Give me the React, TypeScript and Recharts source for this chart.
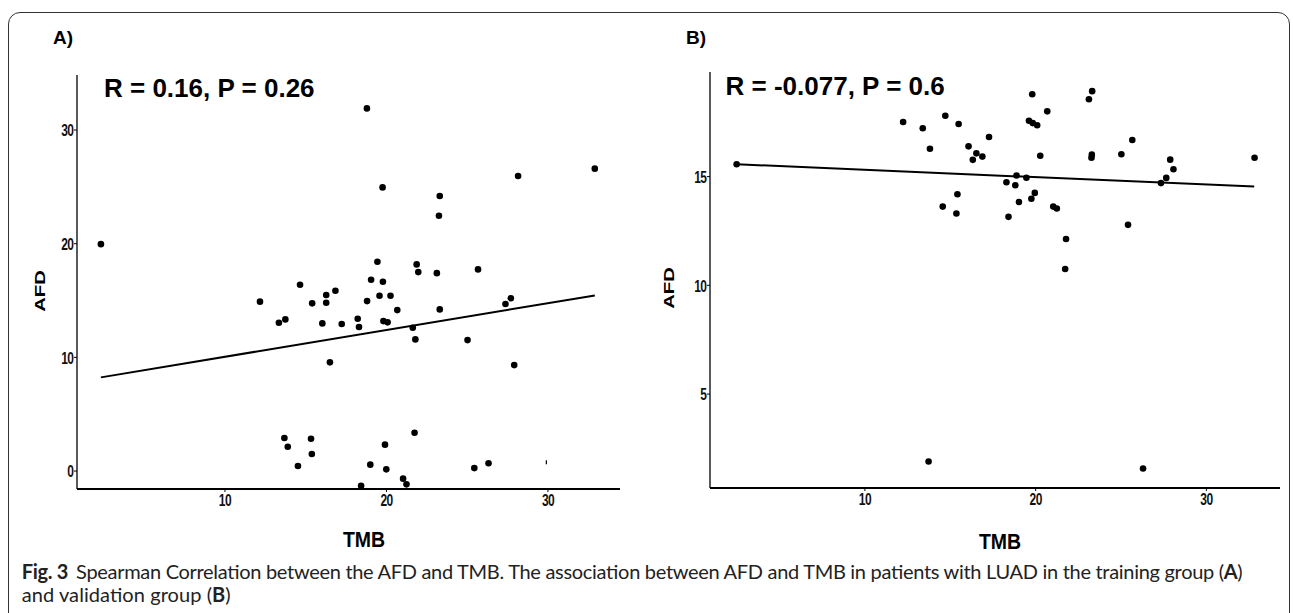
import React from "react";
import { ScatterChart, Scatter, XAxis, YAxis } from "recharts";

// ---------- Panel A (training group) ----------
const tmbA = [
  2.32, 18.79, 19.76, 23.3, 23.25, 28.15, 32.9, 19.44, 21.87, 21.97, 23.12, 25.67,
  19.05, 19.78, 14.65, 16.84, 16.27, 19.57, 20.25, 27.7, 12.17, 18.8, 15.4, 16.27,
  20.67, 23.3, 27.37, 13.34, 13.74, 16.03, 17.23, 18.22, 18.3, 19.81, 20.07, 21.63,
  21.79, 25.02, 16.5, 27.91, 13.68, 13.89, 15.33, 15.38, 14.52, 19.0, 19.91, 19.99,
  21.74, 21.03, 21.24, 18.43, 25.44, 26.32,
];
const afdA = [
  19.96, 31.9, 24.95, 24.19, 22.46, 25.95, 26.6, 18.41, 18.18, 17.5, 17.41, 17.74,
  16.83, 16.65, 16.39, 15.86, 15.48, 15.42, 15.42, 15.2, 14.9, 14.95, 14.75, 14.8,
  14.16, 14.22, 14.69, 13.04, 13.34, 12.99, 12.93, 13.4, 12.67, 13.19, 13.08, 12.6,
  11.58, 11.52, 9.56, 9.32, 2.9, 2.14, 2.84, 1.5, 0.44, 0.56, 2.32, 0.15,
  3.37, -0.67, -1.17, -1.29, 0.26, 0.68,
];
const tinyTmbA = [29.9];
const tinyAfdA = [0.77];
const fitTmbA = [2.32, 32.9];
const fitAfdA = [8.24, 15.45];
const xDomainA = [0.84, 34.46];
const yDomainA = [-1.58, 34.84];
const xTicksA = [10, 20, 30];
const yTicksA = [0, 10, 20, 30];
const statA = "R = 0.16, P = 0.26";

// ---------- Panel B (validation group) ----------
const tmbB = [
  2.49, 12.24, 13.39, 14.71, 15.49, 13.81, 16.07, 16.53, 16.32, 16.88, 17.27, 19.8,
  19.61, 19.83, 20.09, 20.68, 20.27, 23.12, 23.31, 23.29, 23.27, 25.02, 25.66, 27.88,
  28.07, 27.65, 27.34, 32.82, 18.88, 19.46, 18.29, 18.81, 19.95, 19.75, 19.02, 15.42,
  14.56, 15.36, 18.41, 21.03, 21.24, 25.41, 21.78, 21.73, 13.73, 26.29,
];
const afdB = [
  15.57, 17.51, 17.22, 17.8, 17.42, 16.28, 16.39, 16.07, 15.77, 15.92, 16.82, 18.79,
  17.57, 17.46, 17.36, 18.0, 15.96, 18.56, 18.93, 16.01, 15.87, 16.03, 16.68, 15.78,
  15.34, 14.94, 14.7, 15.87, 15.05, 14.95, 14.74, 14.6, 14.25, 13.98, 13.83, 14.19,
  13.62, 13.3, 13.15, 13.62, 13.53, 12.78, 12.13, 10.75, 1.9, 1.58,
];
const fitTmbB = [2.49, 32.8];
const fitAfdB = [15.57, 14.54];
const xDomainB = [0.93, 34.31];
const yDomainB = [0.68, 19.81];
const xTicksB = [10, 20, 30];
const yTicksB = [5, 10, 15];
const statB = "R = -0.077, P = 0.6";

const xLabel = "TMB";
const yLabel = "AFD";

const toPts = (xs: number[], ys: number[]) => xs.map((x, i) => ({ x, y: ys[i] }));

const BOLD = "'Liberation Sans', Arial, sans-serif";

const XTick = (props: any) => {
  const { x, y, payload } = props;
  return (
    <g transform={`translate(${x},${y + 12}) scale(1,1.45)`}>
      <text x={0} y={0} textAnchor="middle" fontSize={12} fontWeight="bold" fontFamily={BOLD} fill="#111" letterSpacing={-0.6}>
        {payload.value}
      </text>
    </g>
  );
};

const YTick = (props: any) => {
  const { x, y, payload } = props;
  return (
    <g transform={`translate(${x + 1.3},${y + 6.2}) scale(1,1.45)`}>
      <text x={0} y={0} textAnchor="end" fontSize={12} fontWeight="bold" fontFamily={BOLD} fill="#111" letterSpacing={-0.6}>
        {payload.value}
      </text>
    </g>
  );
};

const Dot = (props: any) => <circle cx={props.cx} cy={props.cy} r={3.3} fill="#000" />;
const TinyDot = (props: any) => <rect x={props.cx - 0.6} y={props.cy - 2} width={1.2} height={4} fill="#000" />;
const NoShape = () => <g />;

const Panel = (p: {
  width: number; height: number; margin: any;
  pts: any[]; tiny?: any[]; fit: any[];
  xDomain: number[]; yDomain: number[]; xTicks: number[]; yTicks: number[];
}) => (
  <ScatterChart width={p.width} height={p.height} margin={p.margin}>
    <XAxis
      type="number" dataKey="x" domain={p.xDomain} ticks={p.xTicks} allowDataOverflow
      height={30} tickSize={3} tickMargin={2} tick={XTick}
      axisLine={{ stroke: "#000", strokeWidth: 2 }} tickLine={{ stroke: "#000", strokeWidth: 1 }}
    />
    <YAxis
      type="number" dataKey="y" domain={p.yDomain} ticks={p.yTicks} allowDataOverflow
      width={30} tickSize={3} tickMargin={2} tick={YTick}
      axisLine={{ stroke: "#000", strokeWidth: 1.3 }} tickLine={{ stroke: "#000", strokeWidth: 1 }}
    />
    <Scatter data={p.fit} shape={NoShape} line={{ stroke: "#000", strokeWidth: 2 }} isAnimationActive={false} />
    <Scatter data={p.pts} shape={Dot} isAnimationActive={false} />
    {p.tiny ? <Scatter data={p.tiny} shape={TinyDot} isAnimationActive={false} /> : null}
  </ScatterChart>
);

export default function App() {
  const textStyle = { fontFamily: BOLD, fontWeight: "bold" as const, fill: "#000" };
  return (
    <div style={{ position: "relative", width: 1293, height: 613, overflow: "hidden", background: "#fff" }}>
      <style>{`body{margin:0;}`}</style>
      <div
        style={{
          position: "absolute", left: 8, top: 12, width: 1282, height: 700,
          border: "1.5px solid #333", borderRadius: 12, boxSizing: "border-box",
        }}
      />
      <div style={{ position: "absolute", left: 0, top: 0 }}>
        <Panel
          width={640} height={560} margin={{ top: 75, right: 20, bottom: 41, left: 47 }}
          pts={toPts(tmbA, afdA)} tiny={toPts(tinyTmbA, tinyAfdA)} fit={toPts(fitTmbA, fitAfdA)}
          xDomain={xDomainA} yDomain={yDomainA} xTicks={xTicksA} yTicks={yTicksA}
        />
      </div>
      <div style={{ position: "absolute", left: 640, top: 0 }}>
        <Panel
          width={653} height={560} margin={{ top: 72, right: 13, bottom: 42, left: 40 }}
          pts={toPts(tmbB, afdB)} fit={toPts(fitTmbB, fitAfdB)}
          xDomain={xDomainB} yDomain={yDomainB} xTicks={xTicksB} yTicks={yTicksB}
        />
      </div>
      <svg width={1293} height={613} style={{ position: "absolute", left: 0, top: 0, pointerEvents: "none" }}>
        <text x={53} y={43.5} fontSize={19} {...textStyle}>A)</text>
        <text x={686} y={44} fontSize={19} {...textStyle}>B)</text>
        <text x={104} y={96.7} fontSize={26} {...textStyle}>{statA}</text>
        <text x={725.5} y={95} fontSize={26} {...textStyle}>{statB}</text>
        <g transform="translate(45,291) rotate(-90) scale(1.45,1)">
          <text x={0} y={0} textAnchor="middle" fontSize={14} {...textStyle}>{yLabel}</text>
        </g>
        <g transform="translate(674,288) rotate(-90) scale(1.45,1)">
          <text x={0} y={0} textAnchor="middle" fontSize={14} {...textStyle}>{yLabel}</text>
        </g>
        <g transform="translate(364,547) scale(1,1.1)">
          <text x={0} y={0} textAnchor="middle" fontSize={19.5} {...textStyle}>{xLabel}</text>
        </g>
        <g transform="translate(1000,549) scale(1,1.1)">
          <text x={0} y={0} textAnchor="middle" fontSize={19.5} {...textStyle}>{xLabel}</text>
        </g>
        <text x={21.7} y={579} fontSize={20} fontFamily="Lato, 'Open Sans', sans-serif" fill="#222" textLength={1221} lengthAdjust="spacing">
          <tspan fontWeight="bold">Fig. 3</tspan>
          <tspan dx={8}>Spearman Correlation between the AFD and TMB. The association between AFD and TMB in patients with LUAD in the training group (</tspan>
          <tspan fontWeight="bold">A</tspan>
          <tspan>)</tspan>
        </text>
        <text x={21.7} y={602} fontSize={20} fontFamily="Lato, 'Open Sans', sans-serif" fill="#222" textLength={209} lengthAdjust="spacing">
          <tspan>and validation group (</tspan>
          <tspan fontWeight="bold">B</tspan>
          <tspan>)</tspan>
        </text>
      </svg>
    </div>
  );
}
